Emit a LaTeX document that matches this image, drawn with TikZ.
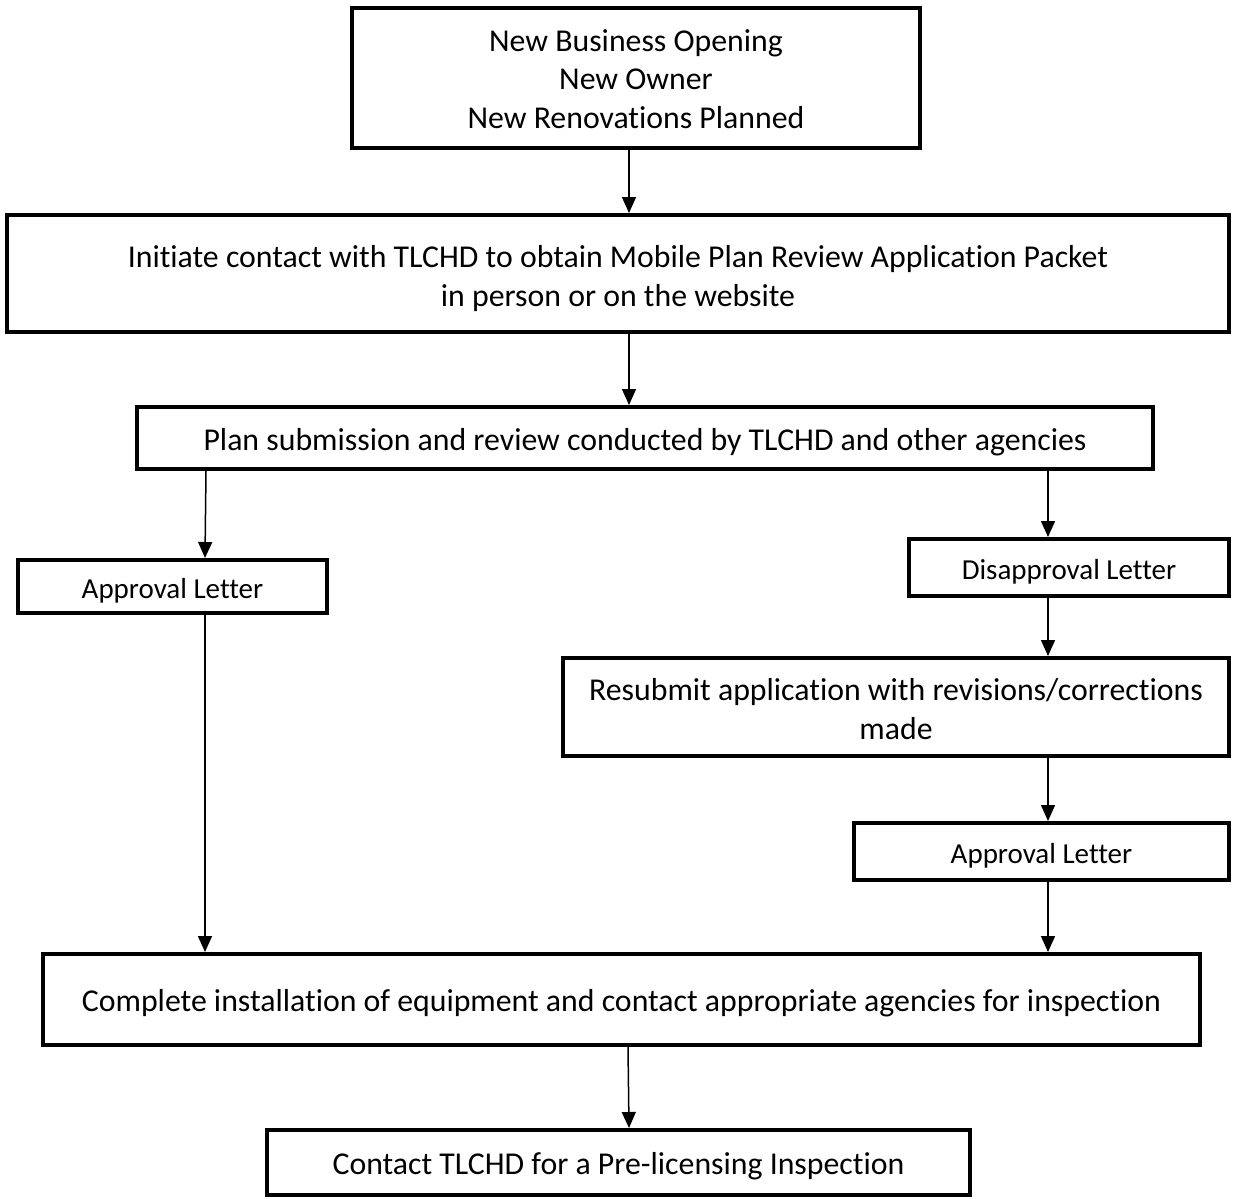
\documentclass[tikz,border=0pt]{standalone}
\usepackage{fontspec}
\setmainfont{Carlito}[RawFeature={-liga;-clig}]
\usetikzlibrary{arrows.meta}
\newcommand{\lowtext}[2]{\raisebox{-#1}[\height][\depth]{#2}}
\tikzset{
  box/.style={draw=black, line width=4pt, fill=white, align=center, inner sep=0pt, font=\fontsize{31.8}{38.7}\selectfont},
  smallbox/.style={box, font=\fontsize{29}{34}\selectfont},
  arr/.style={draw=black, line width=1.5pt, -{Triangle[length=16pt,width=14pt]}}
}
\begin{document}
\begin{tikzpicture}[x=1pt,y=-1pt]
\useasboundingbox (0,0) rectangle (1234,1199);
\node[box, minimum width=568pt, minimum height=140pt] (top) at (636,78) {\lowtext{4pt}{\begin{tabular}{@{}c@{}}New Business Opening\\New Owner\\New Renovations Planned\end{tabular}}};
\node[box, minimum width=1222pt, minimum height=117pt] (init) at (618,273.5) {\lowtext{6pt}{\begin{tabular}{@{}c@{}}Initiate contact with TLCHD to obtain Mobile Plan Review Application Packet\\in person or on the website\end{tabular}}};
\node[box, minimum width=1016pt, minimum height=62pt] (plan) at (645,438) {\lowtext{4pt}{Plan submission and review conducted by TLCHD and other agencies}};
\node[smallbox, minimum width=309pt, minimum height=53pt] (appL) at (172.5,586.5) {\lowtext{4pt}{Approval Letter}};
\node[smallbox, minimum width=320pt, minimum height=57pt] (disap) at (1069,567.5) {\lowtext{4pt}{Disapproval Letter}};
\node[box, minimum width=666pt, minimum height=98pt] (resub) at (896,707) {\lowtext{5pt}{\begin{tabular}{@{}c@{}}Resubmit application with revisions/corrections\\made\end{tabular}}};
\node[smallbox, minimum width=375pt, minimum height=57pt] (appR) at (1041.5,851.5) {\lowtext{4pt}{Approval Letter}};
\node[box, minimum width=1157pt, minimum height=91pt] (compl) at (621.5,999.5) {\lowtext{4pt}{Complete installation of equipment and contact appropriate agencies for inspection}};
\node[box, minimum width=703pt, minimum height=65pt] (contact) at (618.5,1162.5) {\lowtext{4pt}{Contact TLCHD for a Pre-licensing Inspection}};
\coordinate (xa) at (629,0);
\coordinate (xl) at (205,0);
\coordinate (xl2) at (206,0);
\coordinate (xr) at (1048,0);
\coordinate (xb) at (628,0);
\draw[arr] (top.south -| xa) -- (init.north -| xa);
\draw[arr] (init.south -| xa) -- (plan.north -| xa);
\draw[arr] (plan.south -| xl2) -- (appL.north -| xl);
\draw[arr] (plan.south -| xr) -- (disap.north -| xr);
\draw[arr] (disap.south -| xr) -- (resub.north -| xr);
\draw[arr] (resub.south -| xr) -- (appR.north -| xr);
\draw[arr] (appL.south -| xl) -- (compl.north -| xl);
\draw[arr] (appR.south -| xr) -- (compl.north -| xr);
\draw[arr] (compl.south -| xb) -- (contact.north -| xa);
\end{tikzpicture}
\end{document}
